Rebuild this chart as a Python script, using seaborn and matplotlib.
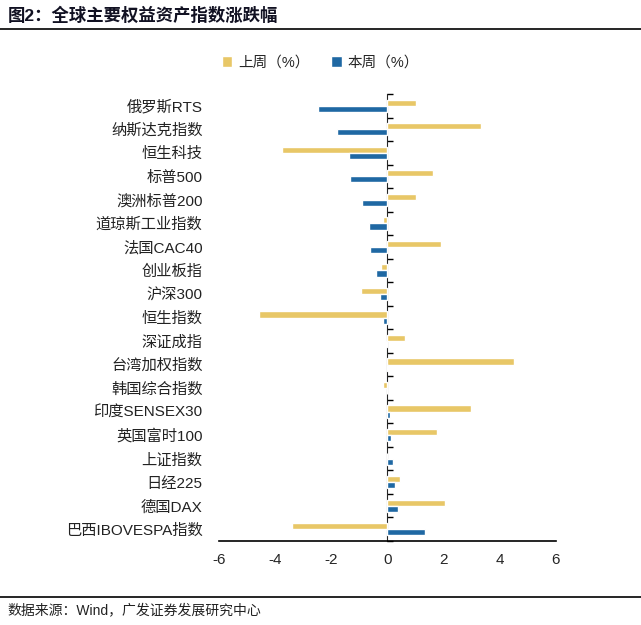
import numpy as np
import pandas as pd
import matplotlib
matplotlib.use("Agg")
import matplotlib.pyplot as plt
import seaborn as sns

categories = ["俄罗斯RTS", "纳斯达克指数", "恒生科技", "标普500", "澳洲标普200",
              "道琼斯工业指数", "法国CAC40", "创业板指", "沪深300", "恒生指数",
              "深证成指", "台湾加权指数", "韩国综合指数", "印度SENSEX30",
              "英国富时100", "上证指数", "日经225", "德国DAX", "巴西IBOVESPA指数"]
last_week = [1.03, 3.32, -3.75, 1.61, 1.01, -0.17, 1.90, -0.23, -0.96, -4.57,
             0.62, 4.50, -0.15, 2.97, 1.77, -0.03, 0.45, 2.05, -3.39]
this_week = [-2.46, -1.81, -1.36, -1.34, -0.90, -0.66, -0.64, -0.40, -0.26, -0.17,
             -0.05, 0.01, 0.0, 0.08, 0.12, 0.20, 0.26, 0.38, 1.33]
series = ["上周（%）", "本周（%）"]
xticks = [-6, -4, -2, 0, 2, 4, 6]

df = pd.concat([
    pd.DataFrame({"指数": categories, "涨跌幅": last_week, "周期": series[0]}),
    pd.DataFrame({"指数": categories, "涨跌幅": this_week, "周期": series[1]}),
])

sns.set_style("white")
plt.rcParams["font.family"] = ["Liberation Sans", "Noto Sans CJK SC", "DejaVu Sans"]

fig = plt.figure(figsize=(6.41, 6.25), dpi=100)
ax = fig.add_axes([0.342, 0.1344, 0.525, 0.7152])

sns.barplot(data=df, y="指数", x="涨跌幅", hue="周期", hue_order=series,
            order=categories, orient="h", width=0.52,
            palette=["#E8C767", "#1F68A3"], saturation=1, ax=ax)

ax.set_xlim(-6, 6)
ax.set_ylim(len(categories) - 0.5, -0.5)
ax.set_xticks(xticks)
ax.set_xticklabels([str(t) for t in xticks], fontsize=11)
ax.set_xlabel("")
ax.set_ylabel("")
ax.tick_params(axis="y", length=0, pad=12, labelsize=11, labelcolor="#222222")
ax.tick_params(axis="x", direction="out", length=5, width=1.2, color="black", pad=4)
for s in ["top", "right", "left"]:
    ax.spines[s].set_visible(False)
ax.spines["bottom"].set_color("black")
ax.spines["bottom"].set_linewidth(1.2)

# zero axis with boundary ticks
sec = ax.secondary_yaxis(0.5)
sec.set_yticks(np.arange(-0.5, len(categories), 1))
sec.set_yticklabels([])
sec.tick_params(direction="out", length=4, width=1, color="black")
sec.spines["left"].set_color("black")
sec.spines["left"].set_linewidth(1.2)

ax.legend(loc="center", bbox_to_anchor=(0.5, 0.90), bbox_transform=fig.transFigure,
          ncol=2, frameon=False, fontsize=10.5, handlelength=0.7, handleheight=0.7,
          columnspacing=1.5, handletextpad=0.4)

fig.text(0.012, 0.975, "图2：全球主要权益资产指数涨跌幅", fontsize=12.5,
         fontweight="bold", color="#111122", va="center", ha="left")
fig.add_artist(plt.Line2D([0, 1], [0.953, 0.953], color="black", lw=1.2,
                          transform=fig.transFigure))
fig.add_artist(plt.Line2D([0, 1], [0.045, 0.045], color="black", lw=1.2,
                          transform=fig.transFigure))
fig.text(0.012, 0.024, "数据来源：Wind，广发证券发展研究中心", fontsize=10,
         color="#222222", va="center", ha="left")

fig.savefig("out.png", dpi=100)
